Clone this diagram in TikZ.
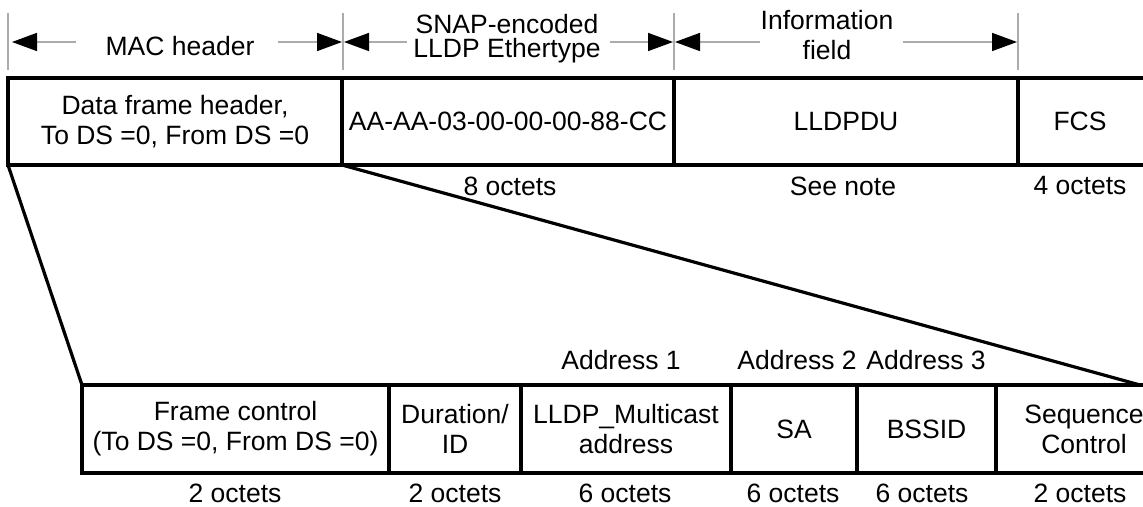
\documentclass[tikz,border=0pt]{standalone}
\usepackage{fontspec}
\setmainfont{Liberation Sans}
\usetikzlibrary{arrows.meta}
\newcommand\lblfont{\fontsize{13.25pt}{15pt}\selectfont}
\newcommand\tightfont{\fontsize{13.25pt}{12pt}\selectfont}
\begin{document}
\begin{tikzpicture}[x=0.5pt,y=-0.5pt,
  field/.style={draw, line width=1.6pt, rectangle, inner sep=0pt, outer sep=0pt, align=center, font=\lblfont},
  lbl/.style={inner sep=0pt, align=center, font=\lblfont},
  ticks/.style={draw=gray!65, line width=0.8pt},
  dimline/.style={draw=gray!65, line width=0.8pt, -{Triangle[length=12.5pt,width=9pt,color=black]}},
  link/.style={line width=1.6pt}]
\useasboundingbox (0,0) rectangle (1143,507);
\clip (0,0) rectangle (1143,507);

% top row
\node[field, minimum width=167pt, minimum height=43.5pt] (mac) at (175,121.5) {Data frame header,\\To DS =0, From DS =0};
\node[field, minimum width=166pt, minimum height=43.5pt] (snap) at (508,121.5) {AA-AA-03-00-00-00-88-CC};
\node[field, minimum width=172pt, minimum height=43.5pt] (info) at (846,121.5) {LLDPDU};
\node[field, minimum width=64pt, minimum height=43.5pt] (fcs) at (1082,121.5) {};
\node[lbl] (fcst) at (1080,121.5) {FCS};

% octets under top row
\node[lbl] (o8) at (510,186) {8 octets};
\node[lbl] (onote) at (843,186) {See note};
\node[lbl] (o4) at (1080,186) {4 octets};

% dimension ticks
\coordinate (t0) at (8,42);
\coordinate (t1) at (343,42);
\coordinate (t2) at (674,42);
\coordinate (t3) at (1018,42);
\draw[ticks] (8,13) -- (8,70);
\draw[ticks] (343,13) -- (343,70);
\draw[ticks] (674,13) -- (674,70);
\draw[ticks] (1018,13) -- (1018,70);

% dimension labels
\node[lbl] (dmac) at (180,46.5) {MAC header};
\node[lbl, font=\tightfont] (dsnap) at (507,39) {SNAP-encoded\\LLDP Ethertype};
\node[lbl] (dinfo) at (827,35) {Information\\field};

% dimension arrows
\coordinate (g0a) at (76,42);
\coordinate (g0b) at (278,42);
\coordinate (g1a) at (407,42);
\coordinate (g1b) at (610,42);
\coordinate (g2a) at (760,42);
\coordinate (g2b) at (903,42);
\draw[dimline] (g0a) -- ([xshift=2pt]t0);
\draw[dimline] (g0b) -- ([xshift=-0.5pt]t1);
\draw[dimline] (g1a) -- ([xshift=0.5pt]t1);
\draw[dimline] (g1b) -- ([xshift=-0.5pt]t2);
\draw[dimline] (g2a) -- ([xshift=0.5pt]t2);
\draw[dimline] (g2b) -- ([xshift=-0.5pt]t3);

% bottom row
\node[field, minimum width=153.5pt, minimum height=44pt] (fc) at (235.5,429) {Frame control\\(To DS =0, From DS =0)};
\node[field, minimum width=66pt, minimum height=44pt] (dur) at (455,429) {Duration/\\ID};
\node[field, minimum width=105pt, minimum height=44pt] (a1) at (626,429) {LLDP\_Multicast\\address};
\node[field, minimum width=63pt, minimum height=44pt] (sa) at (794,429) {SA};
\node[field, minimum width=69.5pt, minimum height=44pt] (bssid) at (926.5,429) {BSSID};
\node[field, minimum width=88pt, minimum height=44pt] (seq) at (1084,429) {Sequence\\Control};

% address labels
\node[lbl] (ad1) at (621,360.5) {Address 1};
\node[lbl] (ad2) at (797,360.5) {Address 2};
\node[lbl] (ad3) at (926,360.5) {Address 3};

% octets under bottom row
\node[lbl] (b1) at (235,493.5) {2 octets};
\node[lbl] (b2) at (455,493.5) {2 octets};
\node[lbl] (b3) at (625,493.5) {6 octets};
\node[lbl] (b4) at (793,493.5) {6 octets};
\node[lbl] (b5) at (922,493.5) {6 octets};
\node[lbl] (b6) at (1080,493.5) {2 octets};

% expansion lines
\coordinate (seqend) at (1140,385);
\draw[link] (mac.south west) -- (fc.north west);
\draw[link] (snap.south west) -- (seqend);
\end{tikzpicture}
\end{document}
